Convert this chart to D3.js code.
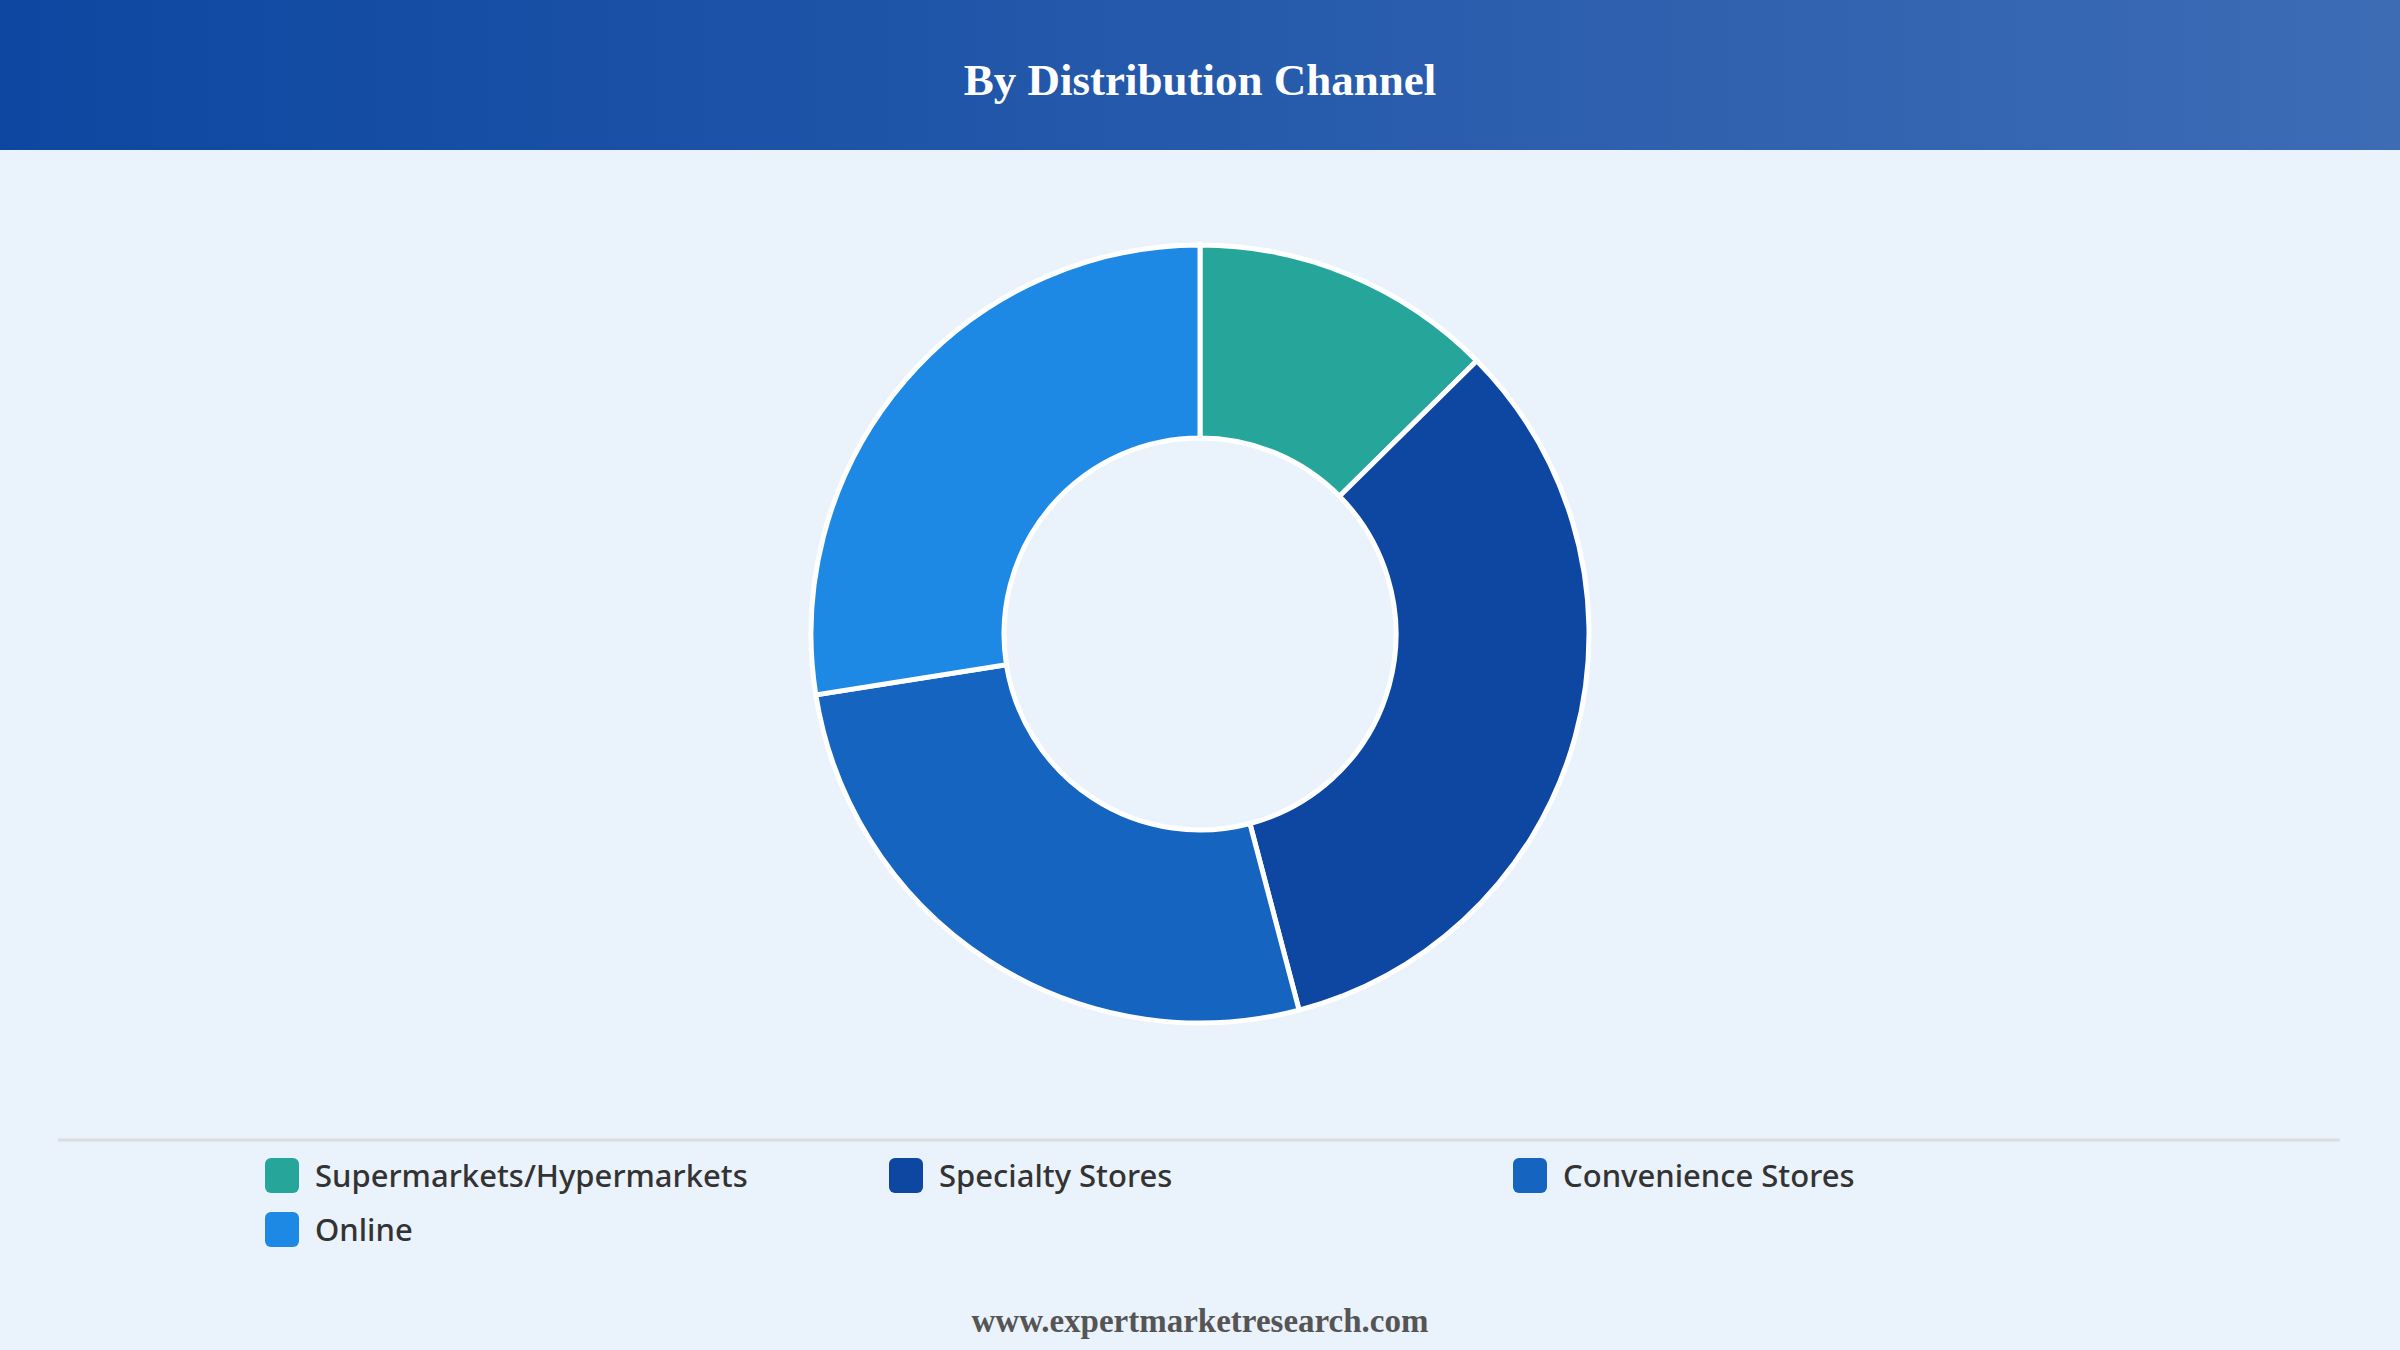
<!DOCTYPE html>
<html>
<head>
<meta charset="utf-8">
<script src="https://cdn.jsdelivr.net/npm/d3@7"></script>
<style>
  html, body { margin: 0; padding: 0; background: #eaf2fb; }
  #chart { width: 2400px; height: 1350px; }
</style>
</head>
<body>
<div id="chart"></div>
<script>
// Data (share of total, %)
const categories = ["Supermarkets/Hypermarkets", "Specialty Stores", "Convenience Stores", "Online"];
const shares = [12.6, 33.3, 26.6, 27.5];
const colors = ["#26a69a", "#0d47a1", "#1565c0", "#1e88e5"];
const title = "By Distribution Channel";
const footer = "www.expertmarketresearch.com";

const width = 2400;
const height = 1350;

const svg = d3.select("#chart")
  .append("svg")
  .attr("width", width)
  .attr("height", height);

// header band with gradient
const defs = svg.append("defs");
const grad = defs.append("linearGradient")
  .attr("id", "hdr")
  .attr("x1", "0%").attr("x2", "100%")
  .attr("y1", "0%").attr("y2", "0%");
grad.append("stop").attr("offset", "0%").attr("stop-color", "#0d47a1");
grad.append("stop").attr("offset", "100%").attr("stop-color", "#3d6cb5");

svg.append("rect")
  .attr("width", width)
  .attr("height", height)
  .attr("fill", "#eaf2fb");

svg.append("rect")
  .attr("width", width)
  .attr("height", 150)
  .attr("fill", "url(#hdr)");

svg.append("text")
  .attr("x", width / 2)
  .attr("y", 95)
  .attr("text-anchor", "middle")
  .attr("font-family", "'Liberation Serif', 'Times New Roman', serif")
  .attr("font-weight", "bold")
  .attr("font-size", "45px")
  .attr("fill", "#ffffff")
  .text(title);

// donut
const cx = 1200, cy = 634;
const outerR = 389, innerR = 196;

const color = d3.scaleOrdinal().domain(categories).range(colors);

const pie = d3.pie().sort(null).value((d) => d.value);
const arc = d3.arc().innerRadius(innerR).outerRadius(outerR);

const data = categories.map((c, i) => ({ name: c, value: shares[i] }));

svg.append("g")
  .attr("transform", `translate(${cx},${cy})`)
  .selectAll("path")
  .data(pie(data))
  .enter()
  .append("path")
  .attr("d", arc)
  .attr("fill", (d) => color(d.data.name))
  .attr("stroke", "#ffffff")
  .attr("stroke-width", 5);

// separator
svg.append("line")
  .attr("x1", 58).attr("x2", 2340)
  .attr("y1", 1140).attr("y2", 1140)
  .attr("stroke", "#d9dde2")
  .attr("stroke-width", 3);

// legend: 3 columns
const colW = 624;
const legend = svg.append("g").attr("transform", "translate(265,1158)");

const item = legend.selectAll("g")
  .data(categories)
  .enter()
  .append("g")
  .attr("transform", (d, i) => `translate(${(i % 3) * colW},${Math.floor(i / 3) * 54})`);

item.append("rect")
  .attr("width", 34)
  .attr("height", 35)
  .attr("rx", 6)
  .attr("fill", (d) => color(d));

item.append("text")
  .attr("x", 50)
  .attr("y", 18)
  .attr("dy", "0.35em")
  .attr("font-family", "'Noto Sans', 'Open Sans', sans-serif")
  .attr("font-size", "31px")
  .attr("font-weight", 500)
  .attr("fill", "#333333")
  .text((d) => d);

// footer
svg.append("text")
  .attr("x", width / 2)
  .attr("y", 1332)
  .attr("text-anchor", "middle")
  .attr("font-family", "'Liberation Serif', 'Times New Roman', serif")
  .attr("font-weight", "bold")
  .attr("font-size", "33px")
  .attr("fill", "#555555")
  .text(footer);
</script>
</body>
</html>
